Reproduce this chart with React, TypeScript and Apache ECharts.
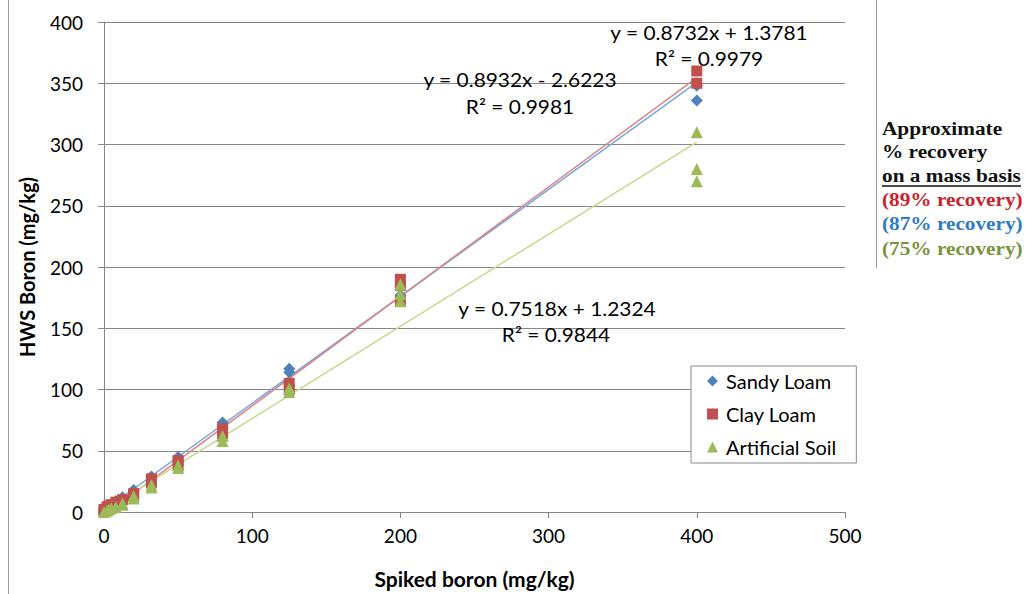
import React, { useEffect, useRef } from "react";
import * as echarts from "echarts";

const sandyLoam: number[][] = [
  [0, 1.5], [2, 3], [3.2, 4], [5, 6], [8, 9], [12.5, 12], [20, 18], [32, 29],
  [50, 45], [50, 43], [80, 73], [80, 70], [125, 117], [125, 114],
  [200, 184], [200, 177], [400, 348], [400, 336],
];
const clayLoam: number[][] = [
  [0, 2], [0, 0], [2, 4], [3.2, 5], [5, 6], [8, 8], [12.5, 10], [20, 15], [20, 13],
  [32, 27], [32, 24], [50, 42], [50, 38], [80, 68], [80, 64], [125, 105], [125, 100],
  [200, 190], [200, 185], [200, 172], [400, 360], [400, 350],
];
const artificialSoil: number[][] = [
  [0, 0], [2, 1], [3.2, 2], [5, 3], [8, 4], [12.5, 7], [12.5, 6], [20, 13], [20, 11],
  [32, 22], [32, 20], [50, 38], [50, 36], [80, 62], [80, 58], [125, 101], [125, 98],
  [200, 186], [200, 178], [200, 172], [400, 310], [400, 280], [400, 270],
];
const seriesNames = ["Sandy Loam", "Clay Loam", "Artificial Soil"];
const slopes = [0.8732, 0.8932, 0.7518];
const intercepts = [1.3781, -2.6223, 1.2324];
const trendRange = [0, 400];
const equationLabels = [
  ["y = 0.8732x + 1.3781", "R² = 0.9979"],
  ["y = 0.8932x - 2.6223", "R² = 0.9981"],
  ["y = 0.7518x + 1.2324", "R² = 0.9844"],
];
const boxLines = ["Approximate", "% recovery", "on a mass basis"];
const recoveryLabels = ["(89% recovery)", "(87% recovery)", "(75% recovery)"];

const markerColors = ["#4f81bd", "#c0504d", "#9bbb59"];
const trendColors = ["#7ea6da", "#d98585", "#c5d98e"];
const FONT = "Lato, 'Open Sans', sans-serif";

export default function App() {
  const ref = useRef<HTMLDivElement>(null);
  useEffect(() => {
    if (!ref.current) return;
    const chart = echarts.init(ref.current, undefined, { renderer: "svg" });
    const datasets = [sandyLoam, clayLoam, artificialSoil];
    const symbols = ["diamond", "rect", "triangle"];
    const sizes = [12, 11, 12];
    const trendSeries = slopes.map((m, i) => ({
      type: "line",
      name: "trend" + i,
      data: trendRange.map((x) => [x, m * x + intercepts[i]]),
      showSymbol: false,
      symbol: "none",
      lineStyle: { color: trendColors[i], width: 1.5 },
      z: 1,
      silent: true,
    }));
    const scatterSeries = datasets.map((d, i) => ({
      type: "scatter",
      name: seriesNames[i],
      data: d,
      symbol: symbols[i],
      symbolSize: sizes[i],
      itemStyle: { color: markerColors[i], opacity: 1 },
      z: 3 + i,
    }));
    const eqPos = [
      [709, 32, 709, 58],
      [520, 79, 520, 106],
      [557, 308, 556, 334],
    ];
    const graphics: any[] = [
      { type: "line", shape: { x1: 8.5, y1: 0, x2: 8.5, y2: 594 }, style: { stroke: "#9a9a9a", lineWidth: 1 } },
      { type: "line", shape: { x1: 876.5, y1: 0, x2: 876.5, y2: 268 }, style: { stroke: "#9a9a9a", lineWidth: 1 } },
    ];
    eqPos.forEach((p, i) => {
      graphics.push({
        type: "text", x: p[0], y: p[1], z: 10, scaleX: 1.1,
        style: { text: equationLabels[i][0], font: `19px ${FONT}`, fill: "#000", align: "center", verticalAlign: "middle" },
      });
      graphics.push({
        type: "text", x: p[2], y: p[3], z: 10, scaleX: 1.1,
        style: { text: equationLabels[i][1], font: `19px ${FONT}`, fill: "#000", align: "center", verticalAlign: "middle" },
      });
    });
    const serif = "bold 19px 'Liberation Serif', 'Times New Roman', serif";
    boxLines.forEach((t, i) => {
      graphics.push({
        type: "text", x: 882, y: 128 + i * 23.5, z: 10, scaleX: 1.12,
        style: { text: t, font: serif, fill: "#111", align: "left", verticalAlign: "middle" },
      });
    });
    graphics.push({ type: "line", shape: { x1: 882, y1: 186, x2: 1021, y2: 186 }, style: { stroke: "#111", lineWidth: 1.5 } });
    const recColors = ["#c8232c", "#2f7bc4", "#77933c"];
    recoveryLabels.forEach((t, i) => {
      graphics.push({
        type: "text", x: 882, y: 199 + i * 24.5, z: 10, scaleX: 1.12,
        style: { text: t, font: serif, fill: recColors[i], align: "left", verticalAlign: "middle" },
      });
    });

    chart.setOption({
      animation: false,
      backgroundColor: "#fff",
      grid: { left: 104, right: 183, top: 22, bottom: 80 },
      xAxis: {
        type: "value", min: 0, max: 500, interval: 100,
        name: "Spiked boron (mg/kg)", nameLocation: "middle", nameGap: 56,
        nameTextStyle: { fontFamily: FONT, fontWeight: "bold", fontSize: 21, color: "#000" },
        axisLine: { lineStyle: { color: "#868686" } },
        axisTick: { show: true, length: 6, lineStyle: { color: "#868686" } },
        axisLabel: { fontFamily: FONT, fontSize: 19, color: "#000", margin: 14 },
        splitLine: { show: false },
      },
      yAxis: {
        type: "value", min: 0, max: 400, interval: 50,
        name: "HWS Boron (mg/kg)", nameLocation: "middle", nameGap: 67, nameRotate: 90,
        nameTextStyle: { fontFamily: FONT, fontWeight: "bold", fontSize: 20, color: "#000" },
        axisLine: { show: true, lineStyle: { color: "#868686" } },
        axisTick: { show: true, length: 6, lineStyle: { color: "#868686" } },
        axisLabel: { fontFamily: FONT, fontSize: 19, color: "#000", margin: 21 },
        splitLine: { show: true, lineStyle: { color: "#868686", width: 1 } },
      },
      legend: {
        data: seriesNames.map((n, i) => ({ name: n, icon: symbols[i] })),
        orient: "vertical",
        left: 691, top: 366,
        padding: [5, 20, 6, 16],
        itemGap: 13,
        itemWidth: 11, itemHeight: 11,
        backgroundColor: "#fff",
        borderColor: "#8a8a8a", borderWidth: 1,
        textStyle: { fontFamily: FONT, fontSize: 20, lineHeight: 20, color: "#000", padding: [0, 0, 0, 3] },
      },
      series: [...trendSeries, ...scatterSeries],
      graphic: graphics,
    });
    return () => chart.dispose();
  }, []);
  return <div ref={ref} style={{ width: 1028, height: 594, position: "absolute", left: 0, top: 0 }} />;
}
